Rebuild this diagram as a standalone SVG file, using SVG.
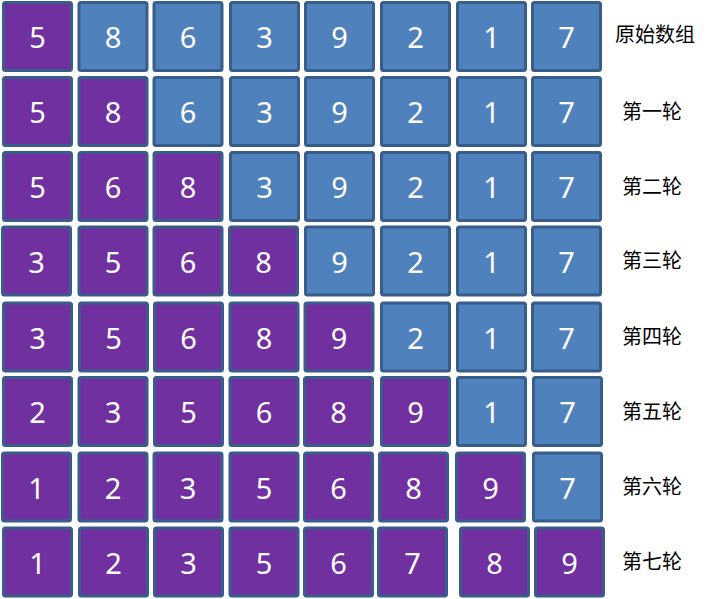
<svg xmlns="http://www.w3.org/2000/svg" width="726" height="599" viewBox="0 0 726 599">
<style>
.c rect{stroke:#385D8A;stroke-width:3;}
.p rect{fill:#7030A0;}
.b rect{fill:#4F81BD;}
.c text{fill:#FFFFFF;font-family:"Noto Sans","Open Sans","DejaVu Sans",sans-serif;font-size:29px;text-anchor:middle;}
.lbl{fill:#000000;font-family:"Noto Sans CJK SC","Noto Sans",sans-serif;font-size:20px;text-anchor:middle;}
</style>
<rect width="726" height="599" fill="#FFFFFF"/>
<!-- row 0 -->
<g id="r0c0" class="c p"><rect x="3.5" y="2.5" width="68" height="68" rx="2"/><text x="37.5" y="48">5</text></g>
<g id="r0c1" class="c b"><rect x="79" y="2.5" width="68" height="68" rx="2"/><text x="113" y="48">8</text></g>
<g id="r0c2" class="c b"><rect x="154" y="2.5" width="68" height="68" rx="2"/><text x="188" y="48">6</text></g>
<g id="r0c3" class="c b"><rect x="230.5" y="2.5" width="68" height="68" rx="2"/><text x="264.5" y="48">3</text></g>
<g id="r0c4" class="c b"><rect x="305.5" y="2.5" width="68" height="68" rx="2"/><text x="339.5" y="48">9</text></g>
<g id="r0c5" class="c b"><rect x="381.5" y="2.5" width="68" height="68" rx="2"/><text x="415.5" y="48">2</text></g>
<g id="r0c6" class="c b"><rect x="457.5" y="2.5" width="68" height="68" rx="2"/><text x="491.5" y="48">1</text></g>
<g id="r0c7" class="c b"><rect x="532.5" y="2.5" width="68" height="68" rx="2"/><text x="566.5" y="48">7</text></g>
<!-- row 1 -->
<g id="r1c0" class="c p"><rect x="3.5" y="77.5" width="68" height="68" rx="2"/><text x="37.5" y="123">5</text></g>
<g id="r1c1" class="c p"><rect x="79" y="77.5" width="68" height="68" rx="2"/><text x="113" y="123">8</text></g>
<g id="r1c2" class="c b"><rect x="154" y="77.5" width="68" height="68" rx="2"/><text x="188" y="123">6</text></g>
<g id="r1c3" class="c b"><rect x="230.5" y="77.5" width="68" height="68" rx="2"/><text x="264.5" y="123">3</text></g>
<g id="r1c4" class="c b"><rect x="305.5" y="77.5" width="68" height="68" rx="2"/><text x="339.5" y="123">9</text></g>
<g id="r1c5" class="c b"><rect x="381.5" y="77.5" width="68" height="68" rx="2"/><text x="415.5" y="123">2</text></g>
<g id="r1c6" class="c b"><rect x="457.5" y="77.5" width="68" height="68" rx="2"/><text x="491.5" y="123">1</text></g>
<g id="r1c7" class="c b"><rect x="532.5" y="77.5" width="68" height="68" rx="2"/><text x="566.5" y="123">7</text></g>
<!-- row 2 -->
<g id="r2c0" class="c p"><rect x="3.5" y="152.5" width="68" height="68" rx="2"/><text x="37.5" y="198">5</text></g>
<g id="r2c1" class="c p"><rect x="79" y="152.5" width="68" height="68" rx="2"/><text x="113" y="198">6</text></g>
<g id="r2c2" class="c p"><rect x="154" y="152.5" width="68" height="68" rx="2"/><text x="188" y="198">8</text></g>
<g id="r2c3" class="c b"><rect x="230.5" y="152.5" width="68" height="68" rx="2"/><text x="264.5" y="198">3</text></g>
<g id="r2c4" class="c b"><rect x="305.5" y="152.5" width="68" height="68" rx="2"/><text x="339.5" y="198">9</text></g>
<g id="r2c5" class="c b"><rect x="381.5" y="152.5" width="68" height="68" rx="2"/><text x="415.5" y="198">2</text></g>
<g id="r2c6" class="c b"><rect x="457.5" y="152.5" width="68" height="68" rx="2"/><text x="491.5" y="198">1</text></g>
<g id="r2c7" class="c b"><rect x="532.5" y="152.5" width="68" height="68" rx="2"/><text x="566.5" y="198">7</text></g>
<!-- row 3 -->
<g id="r3c0" class="c p"><rect x="2.5" y="227" width="68" height="68" rx="2"/><text x="36.5" y="272.5">3</text></g>
<g id="r3c1" class="c p"><rect x="79" y="227" width="68" height="68" rx="2"/><text x="113" y="272.5">5</text></g>
<g id="r3c2" class="c p"><rect x="154" y="227" width="68" height="68" rx="2"/><text x="188" y="272.5">6</text></g>
<g id="r3c3" class="c p"><rect x="229.5" y="227" width="68" height="68" rx="2"/><text x="263.5" y="272.5">8</text></g>
<g id="r3c4" class="c b"><rect x="305.5" y="227" width="68" height="68" rx="2"/><text x="339.5" y="272.5">9</text></g>
<g id="r3c5" class="c b"><rect x="381.5" y="227" width="68" height="68" rx="2"/><text x="415.5" y="272.5">2</text></g>
<g id="r3c6" class="c b"><rect x="457.5" y="227" width="68" height="68" rx="2"/><text x="491.5" y="272.5">1</text></g>
<g id="r3c7" class="c b"><rect x="532.5" y="227" width="68" height="68" rx="2"/><text x="566.5" y="272.5">7</text></g>
<!-- row 4 -->
<g id="r4c0" class="c p"><rect x="3.5" y="303" width="68" height="68" rx="2"/><text x="37.5" y="348.5">3</text></g>
<g id="r4c1" class="c p"><rect x="79.5" y="303" width="68" height="68" rx="2"/><text x="113.5" y="348.5">5</text></g>
<g id="r4c2" class="c p"><rect x="154.5" y="303" width="68" height="68" rx="2"/><text x="188.5" y="348.5">6</text></g>
<g id="r4c3" class="c p"><rect x="230" y="303" width="68" height="68" rx="2"/><text x="264" y="348.5">8</text></g>
<g id="r4c4" class="c p"><rect x="305" y="303" width="68" height="68" rx="2"/><text x="339" y="348.5">9</text></g>
<g id="r4c5" class="c b"><rect x="381.5" y="303" width="68" height="68" rx="2"/><text x="415.5" y="348.5">2</text></g>
<g id="r4c6" class="c b"><rect x="457.5" y="303" width="68" height="68" rx="2"/><text x="491.5" y="348.5">1</text></g>
<g id="r4c7" class="c b"><rect x="532.5" y="303" width="68" height="68" rx="2"/><text x="566.5" y="348.5">7</text></g>
<!-- row 5 -->
<g id="r5c0" class="c p"><rect x="3.5" y="377.5" width="68" height="68" rx="2"/><text x="37.5" y="423">2</text></g>
<g id="r5c1" class="c p"><rect x="79" y="377.5" width="68" height="68" rx="2"/><text x="113" y="423">3</text></g>
<g id="r5c2" class="c p"><rect x="154.5" y="377.5" width="68" height="68" rx="2"/><text x="188.5" y="423">5</text></g>
<g id="r5c3" class="c p"><rect x="230" y="377.5" width="68" height="68" rx="2"/><text x="264" y="423">6</text></g>
<g id="r5c4" class="c p"><rect x="304.5" y="377.5" width="68" height="68" rx="2"/><text x="338.5" y="423">8</text></g>
<g id="r5c5" class="c p"><rect x="381.5" y="377.5" width="68" height="68" rx="2"/><text x="415.5" y="423">9</text></g>
<g id="r5c6" class="c b"><rect x="457.5" y="377.5" width="68" height="68" rx="2"/><text x="491.5" y="423">1</text></g>
<g id="r5c7" class="c b"><rect x="533.5" y="377.5" width="68" height="68" rx="2"/><text x="567.5" y="423">7</text></g>
<!-- row 6 -->
<g id="r6c0" class="c p"><rect x="2.5" y="453" width="68" height="68" rx="2"/><text x="36.5" y="498.5">1</text></g>
<g id="r6c1" class="c p"><rect x="79" y="453" width="68" height="68" rx="2"/><text x="113" y="498.5">2</text></g>
<g id="r6c2" class="c p"><rect x="154" y="453" width="68" height="68" rx="2"/><text x="188" y="498.5">3</text></g>
<g id="r6c3" class="c p"><rect x="230" y="453" width="68" height="68" rx="2"/><text x="264" y="498.5">5</text></g>
<g id="r6c4" class="c p"><rect x="304.5" y="453" width="68" height="68" rx="2"/><text x="338.5" y="498.5">6</text></g>
<g id="r6c5" class="c p"><rect x="379.5" y="453" width="68" height="68" rx="2"/><text x="413.5" y="498.5">8</text></g>
<g id="r6c6" class="c p"><rect x="456.5" y="453" width="68" height="68" rx="2"/><text x="490.5" y="498.5">9</text></g>
<g id="r6c7" class="c b"><rect x="533.5" y="453" width="68" height="68" rx="2"/><text x="567.5" y="498.5">7</text></g>
<!-- row 7 -->
<g id="r7c0" class="c p"><rect x="3.5" y="528" width="68" height="68" rx="2"/><text x="37.5" y="573.5">1</text></g>
<g id="r7c1" class="c p"><rect x="79.5" y="528" width="68" height="68" rx="2"/><text x="113.5" y="573.5">2</text></g>
<g id="r7c2" class="c p"><rect x="154.5" y="528" width="68" height="68" rx="2"/><text x="188.5" y="573.5">3</text></g>
<g id="r7c3" class="c p"><rect x="230" y="528" width="68" height="68" rx="2"/><text x="264" y="573.5">5</text></g>
<g id="r7c4" class="c p"><rect x="304.5" y="528" width="68" height="68" rx="2"/><text x="338.5" y="573.5">6</text></g>
<g id="r7c5" class="c p"><rect x="378.5" y="528" width="68" height="68" rx="2"/><text x="412.5" y="573.5">7</text></g>
<g id="r7c6" class="c p"><rect x="460.5" y="528" width="68" height="68" rx="2"/><text x="494.5" y="573.5">8</text></g>
<g id="r7c7" class="c p"><rect x="535.5" y="528" width="68" height="68" rx="2"/><text x="569.5" y="573.5">9</text></g>
<!-- labels -->
<g id="labels">
<text class="lbl" x="655" y="42">原始数组</text>
<text class="lbl" x="652" y="119">第一轮</text>
<text class="lbl" x="652" y="194">第二轮</text>
<text class="lbl" x="652" y="268">第三轮</text>
<text class="lbl" x="652" y="344">第四轮</text>
<text class="lbl" x="652" y="419">第五轮</text>
<text class="lbl" x="652" y="494">第六轮</text>
<text class="lbl" x="652" y="569">第七轮</text>
</g>
</svg>
